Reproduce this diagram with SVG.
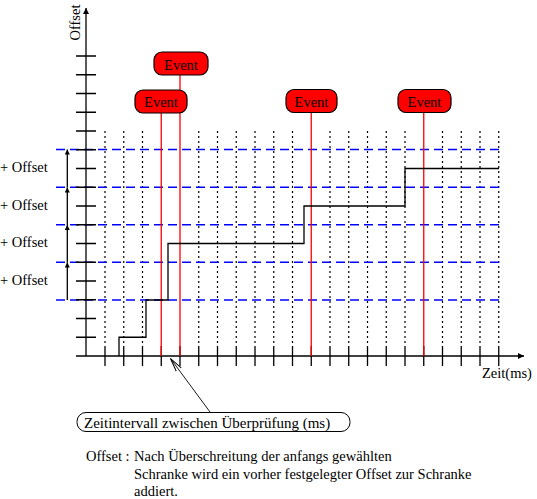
<svg xmlns="http://www.w3.org/2000/svg" width="537" height="499" viewBox="0 0 537 499">
<style>
text{font-family:"Liberation Serif","Times New Roman","DejaVu Serif",serif;font-size:14.5px;fill:#000}
.ax{stroke:#000;stroke-width:1.3;fill:none}
.tick{stroke:#000;stroke-width:1.3;fill:none}
.dot{stroke:#000;stroke-width:1.2;stroke-dasharray:2 3;fill:none}
.blue{stroke:#0000ff;stroke-width:1.4;stroke-dasharray:9 5;fill:none}
.red{stroke:#ff0000;stroke-width:1.3;fill:none}
.step{stroke:#000;stroke-width:1.3;fill:none}
.ev rect{fill:#ff0000;stroke:#000;stroke-width:1.2}
.ev text{text-anchor:middle}
</style>
<defs>
<marker id="ah" viewBox="0 0 10 10" refX="10" refY="5" markerWidth="8" markerHeight="6" markerUnits="userSpaceOnUse" orient="auto">
<path d="M0,0 L10,5 L0,10 Z" fill="#000"/>
</marker>
<marker id="ahs" viewBox="0 0 10 10" refX="10" refY="5" markerWidth="9" markerHeight="5" markerUnits="userSpaceOnUse" orient="auto">
<path d="M0,0 L10,5 L0,10 Z" fill="#000"/>
</marker>
<marker id="open" viewBox="0 0 14 8" refX="14" refY="4" markerWidth="14" markerHeight="8" markerUnits="userSpaceOnUse" orient="auto">
<path d="M0,1 L14,4 L0,7" fill="none" stroke="#000" stroke-width="1"/>
</marker>
</defs>

<g id="grid">
<path class="dot" d="M105,131V346M123.75,131V346M142.5,131V346M198.75,131V346M217.5,131V346M236.25,131V346M255,131V346M273.75,131V346M292.5,131V346M330,131V346M348.75,131V346M367.5,131V346M386.25,131V346M405,131V346M442.5,131V346M461.25,131V346M480,131V346M498.75,131V346"/>
<path class="blue" d="M56,149.5H499M56,187.25H499M56,224.75H499M56,262.25H499M56,300H499"/>
</g>

<g id="axes">
<path class="ax" d="M86,356V8" marker-end="url(#ah)"/>
<path class="ax" d="M76,356H524" marker-end="url(#ah)"/>
<path class="tick" d="M76,337.25H96M76,318.5H96M76,299.75H96M76,281H96M76,262.25H96M76,243.5H96M76,224.75H96M76,206H96M76,187.25H96M76,168.5H96M76,149.75H96M76,131H96M76,112.25H96M76,93.5H96M76,74.75H96M76,56H96"/>
<path class="tick" d="M105,346V366M123.75,346V366M142.5,346V366M161.25,346V366M180,346V366M198.75,346V366M217.5,346V366M236.25,346V366M255,346V366M273.75,346V366M292.5,346V366M311.25,346V366M330,346V366M348.75,346V366M367.5,346V366M386.25,346V366M405,346V366M423.75,346V366M442.5,346V366M461.25,346V366M480,346V366M498.75,346V366"/>
<text transform="translate(79.5,40.5) rotate(-90)">Offset</text>
<text x="482" y="378">Zeit(ms)</text>
</g>

<g id="offset-arrows">
<path class="ax" d="M67.3,300V262.5" marker-end="url(#ahs)"/>
<path class="ax" d="M67.3,262.5V225" marker-end="url(#ahs)"/>
<path class="ax" d="M67.3,225V187.5" marker-end="url(#ahs)"/>
<path class="ax" d="M67.3,187.5V149.5" marker-end="url(#ahs)"/>
<text x="0" y="172">+ Offset</text>
<text x="0" y="209.5">+ Offset</text>
<text x="0" y="247">+ Offset</text>
<text x="0" y="284.5">+ Offset</text>
</g>

<g id="connectors">
<path class="red" d="M161.25,113V356"/>
<path class="red" d="M180,75V356"/>
<path class="red" d="M311.25,112V356"/>
<path class="red" d="M423.75,112V356"/>
<path d="M210,412L170.5,358.5" stroke="#000" stroke-width="0.9" fill="none" marker-end="url(#open)"/>
</g>

<g id="step-curve">
<path class="step" d="M119,356V337.25H146V300H168V243.5H304V206H405V168.5H499"/>
</g>

<g id="event-top" class="ev">
<rect x="154" y="52" width="54" height="23" rx="8" ry="8"/>
<text x="181" y="69.5">Event</text>
</g>
<g id="event-1" class="ev">
<rect x="135" y="90" width="52" height="23" rx="8" ry="8"/>
<text x="161" y="107">Event</text>
</g>
<g id="event-2" class="ev">
<rect x="286" y="89.5" width="51" height="23" rx="8" ry="8"/>
<text x="311.5" y="106.5">Event</text>
</g>
<g id="event-3" class="ev">
<rect x="398" y="89.5" width="53" height="23" rx="8" ry="8"/>
<text x="424.5" y="106.5">Event</text>
</g>

<g id="callout">
<rect x="77" y="412.5" width="273" height="19" rx="9" ry="9" fill="#fff" stroke="#000" stroke-width="1"/>
<text x="84" y="428" style="font-size:15px">Zeitintervall zwischen Überprüfung (ms)</text>
</g>

<g id="legend">
<text x="86" y="461">Offset :</text>
<text x="134" y="461">Nach Überschreitung der anfangs gewählten</text>
<text x="134" y="478.5">Schranke wird ein vorher festgelegter Offset zur Schranke</text>
<text x="134" y="496">addiert.</text>
</g>
</svg>
